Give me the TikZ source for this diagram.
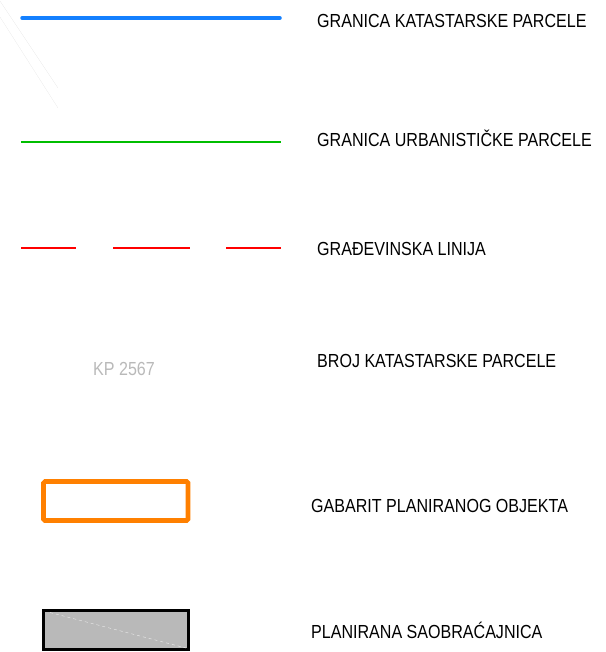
\documentclass[tikz,border=0pt]{standalone}
\usepackage{fontspec}
\setmainfont[FakeStretch=0.85]{Liberation Sans}
\definecolor{parcelblue}{RGB}{20,128,255}
\definecolor{urbgreen}{RGB}{0,190,0}
\definecolor{gabarit}{RGB}{255,128,0}
\tikzset{
  label/.style={anchor=base west, inner sep=0pt, font=\fontsize{18.9}{20}\selectfont},
}
\begin{document}
\begin{tikzpicture}[x=1pt, y=-1pt]
      \useasboundingbox (0, 0) rectangle (605, 652);
      \draw [gray!20, very thin] (0, 1) -- (58, 88);
      \draw [gray!20, very thin] (0, 17) -- (58, 108);
      \draw [parcelblue, line width=3.5pt, line cap=round] (22, 18) -- (280, 18);
      \draw [urbgreen, line width=1.6pt] (21, 142) -- (281, 142);
      \draw [red, line width=1.8pt, dash pattern=on 55pt off 37pt on 77pt off 36pt on 55pt] (21, 248) -- (281, 248);
      \node [label, text=gray!55] (kp) at (93, 375.5) {KP 2567};
      \draw [gabarit, line width=4.6pt, rounded corners=1.5pt] (43.5, 481.5) rectangle (188, 520.5);
      \draw [black, line width=3pt, fill=gray!55] (43.5, 610.5) rectangle (188.5, 649.5);
      \draw [white!85!gray, thin, dashed] (50, 612.5) -- (186, 648);
      \node [label] (l1) at (317, 27.5) {GRANICA KATASTARSKE PARCELE};
      \node [label] (l2) at (317, 147) {GRANICA URBANISTIČKE PARCELE};
      \node [label] (l3) at (317, 255) {GRAĐEVINSKA LINIJA};
      \node [label] (l4) at (317, 367) {BROJ KATASTARSKE PARCELE};
      \node [label] (l5) at (311, 512) {GABARIT PLANIRANOG OBJEKTA};
      \node [label] (l6) at (311, 638) {PLANIRANA SAOBRAĆAJNICA};
\end{tikzpicture}
\end{document}
